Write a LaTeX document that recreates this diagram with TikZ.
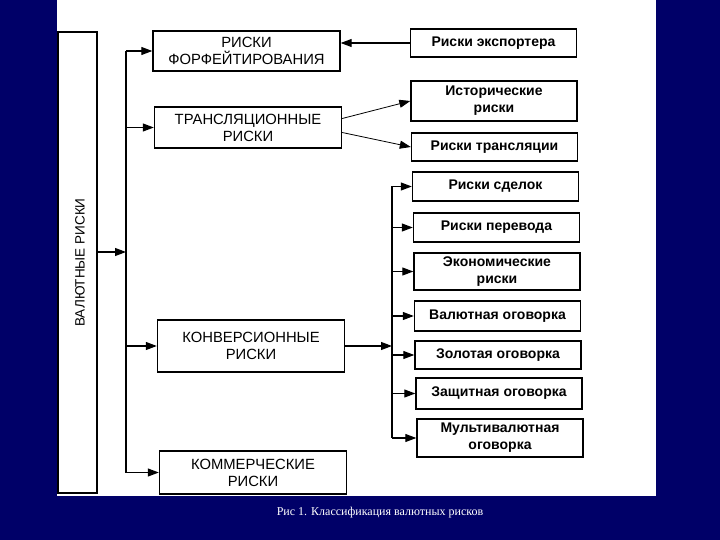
\documentclass[tikz,border=0pt]{standalone}
\usepackage{fontspec}
\setmainfont{Liberation Serif}
\setsansfont{Liberation Sans}
\usetikzlibrary{arrows.meta}
\definecolor{navy}{RGB}{0,0,104}

\begin{document}
\begin{tikzpicture}[x=1pt,y=-1pt,
		box/.style={draw, line width=1.4pt, inner sep=0pt, align=center, minimum width=187pt,
			font=\sffamily\fontsize{14.8}{17}\selectfont},
		leaf/.style={draw, line width=1.4pt, inner sep=0pt, align=center, minimum width=166pt,
			font=\sffamily\bfseries\fontsize{14}{17}\selectfont},
		arr/.style={-{Triangle[length=11pt,width=8pt]}, line width=1.1pt}]
		\useasboundingbox (0,0) rectangle (720,540);
		\fill[navy] (0,0) rectangle (720,540);
		\fill[white] (57,0) rectangle (656,496);
		% root
		\node[draw, line width=1.4pt, minimum width=39pt, minimum height=461pt, inner sep=0pt] (val) at (77.5,262.5) {};
		\node[rotate=90, font=\sffamily\fontsize{13.5}{15}\selectfont] at (80,262.5) {ВАЛЮТНЫЕ РИСКИ};
		% left column
		\node[box, minimum height=40pt] (forf) at (246.5,51) {РИСКИ\\ФОРФЕЙТИРОВАНИЯ};
		\node[box, minimum height=41pt] (transl) at (248,127.5) {ТРАНСЛЯЦИОННЫЕ\\РИСКИ};
		\node[box, minimum height=52pt] (konv) at (251,346) {КОНВЕРСИОННЫЕ\\РИСКИ};
		\node[box, minimum height=43pt] (komm) at (253,472.5) {КОММЕРЧЕСКИЕ\\РИСКИ};
		% right column
		\node[leaf, minimum height=28pt] (exp) at (493.5,43) {Риски экспортера};
		\node[leaf, minimum height=40pt] (hist) at (494,101) {Исторические\\риски};
		\node[leaf, minimum height=28pt] (tr) at (494.5,147) {Риски трансляции};
		\node[leaf, minimum height=29pt] (sdel) at (495.5,186.5) {Риски сделок};
		\node[leaf, minimum height=29pt] (perev) at (496.5,227.5) {Риски перевода};
		\node[leaf, minimum height=37pt] (econ) at (497,271.5) {Экономические\\риски};
		\node[leaf, minimum height=30pt] (valog) at (497.5,316) {Валютная оговорка};
		\node[leaf, minimum height=28pt] (zol) at (498,355) {Золотая оговорка};
		\node[leaf, minimum height=31pt] (zasch) at (499,393.5) {Защитная оговорка};
		\node[leaf, minimum height=38pt] (multi) at (500,438) {Мультивалютная\\оговорка};
		% buses
		\coordinate (busL) at (126,0);
		\coordinate (busR) at (392,0);
		\coordinate (vout) at (97,252);
		\draw[line width=1.1pt] (busL |- forf.west) -- (busL |- komm.west);
		\draw[line width=1.1pt] (busR |- sdel.west) -- (busR |- multi.west);
		\draw[arr] (vout) -- (vout -| busL);
		\foreach \n in {forf, transl, konv, komm}
			\draw[arr] (busL |- \n.west) -- (\n.west);
		\foreach \n in {sdel, perev, econ, valog, zol, zasch, multi}
			\draw[arr] (busR |- \n.west) -- (\n.west);
		\draw[arr] (konv.east) -- (konv.east -| busR);
		\draw[arr] (exp.west) -- (exp.west -| forf.east);
		\draw[arr, line width=0.8pt] ([yshift=9pt]transl.east) -- (hist.west);
		\draw[arr, line width=0.8pt] ([yshift=-5pt]transl.east) -- (tr.west);
		% caption
		\node[text=white, font=\fontsize{12}{14}\selectfont] (cap) at (380,513) {Рис 1. Классификация валютных рисков};
	\end{tikzpicture}
\end{document}
